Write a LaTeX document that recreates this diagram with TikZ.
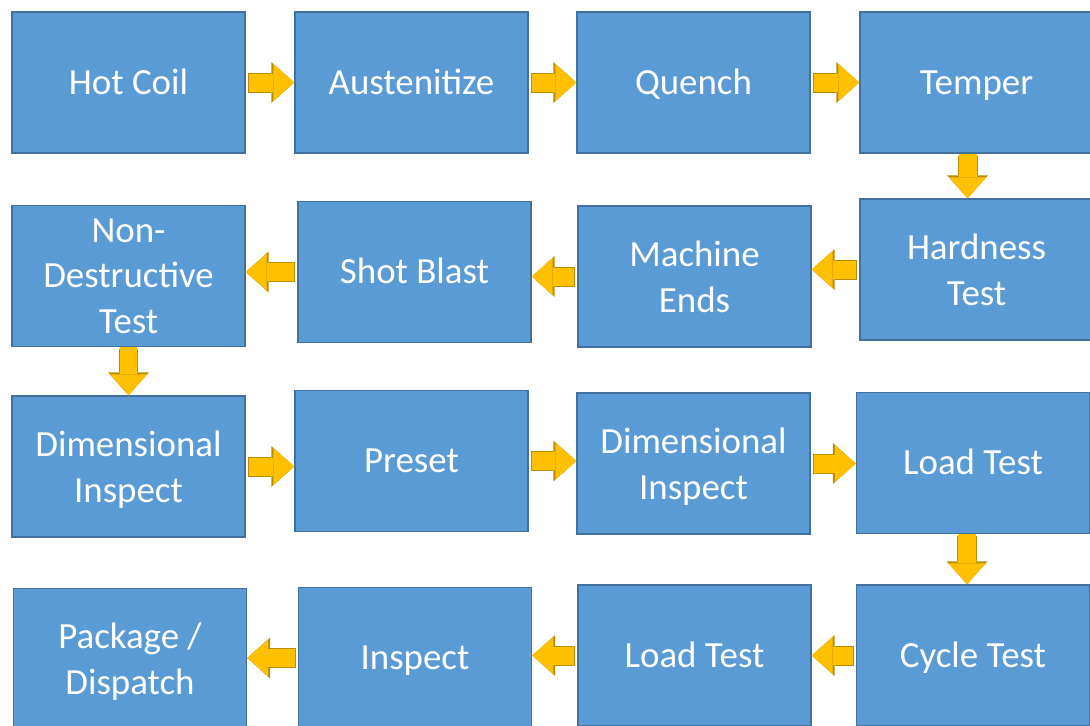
\documentclass[tikz,border=0pt]{standalone}
\usepackage{fontspec}
\setmainfont{Carlito}
\usetikzlibrary{arrows.meta}
\definecolor{boxfill}{HTML}{5B9BD5}
\definecolor{boxline}{HTML}{41719C}
\definecolor{arrowfill}{HTML}{FFC000}
\definecolor{arrowline}{HTML}{BC8C00}
\newcommand\linestrut{\rule[-4.5pt]{0pt}{22.5pt}}
\tikzstyle{stepbox}=[rectangle, draw=boxline, fill=boxfill, line width=0.8pt,
	                 minimum width=4.66cm, minimum height=2.82cm, inner sep=2pt,
	                 text=white, align=center, font=\fontsize{21}{26}\selectfont,
	                 execute at begin node=\linestrut, execute at end node=\linestrut]
\tikzstyle{multi}=[text depth=0pt]
\tikzstyle{flow}=[draw=arrowfill, line width=0.36cm, shorten <=0.06cm,
	              -{Triangle[width=0.74cm, length=0.42cm, line width=0pt]},
	              preaction={draw=arrowline, line width=0.40cm, shorten <=0.04cm,
	              -{Triangle[width=0.82cm, length=0.46cm, line width=0pt]}}]

\begin{document}
\begin{tikzpicture}[x=0.02cm, y=-0.02cm]
\useasboundingbox (0,0) rectangle (1090,725);
% row 1
\node[stepbox] (hot) at (128.5,82.5) {Hot Coil};
\node[stepbox] (aus) at (411.5,82.5) {Austenitize};
\node[stepbox] (quench) at (693.5,82.5) {Quench};
\node[stepbox] (temper) at (976.5,82.5) {Temper};
% row 2
\node[stepbox, multi] (ndt) at (128.5,276) {Non-\\Destructive\\Test};
\node[stepbox] (shot) at (414.5,272) {Shot Blast};
\node[stepbox, multi] (machine) at (694.5,276.5) {Machine\\Ends};
\node[stepbox, multi] (hard) at (976.5,269.5) {Hardness\\Test};
% row 3
\node[stepbox, multi] (dimA) at (128.5,466.5) {Dimensional\\Inspect};
\node[stepbox] (preset) at (411.5,461) {Preset};
\node[stepbox, multi] (dimB) at (693.5,463.5) {Dimensional\\Inspect};
\node[stepbox] (loadA) at (973,463) {Load Test};
% row 4
\node[stepbox, multi] (pack) at (130,659) {Package /\\Dispatch};
\node[stepbox] (insp) at (415,658) {Inspect};
\node[stepbox] (loadB) at (694.5,655.5) {Load Test};
\node[stepbox] (cycle) at (973,655.5) {Cycle Test};

% arrows to the right
\foreach \a/\b in {hot/aus, aus/quench, quench/temper, dimA/preset, preset/dimB, dimB/loadA}
	\draw[flow] (\a.east) -- (\a.east -| \b.west);
% arrows to the left
\foreach \a/\b in {hard/machine, machine/shot, shot/ndt, cycle/loadB, loadB/insp, insp/pack}
	\draw[flow] (\a.west) -- (\a.west -| \b.east);
% arrows down
\foreach \a/\b/\s in {temper/hard/-0.18cm, ndt/dimA/0cm, loadA/cycle/-0.12cm}
	\draw[flow, shorten <=0pt] ([xshift=\s]\a.south) -- ([xshift=\s]\a.south |- \b.north);
\end{tikzpicture}
\end{document}
